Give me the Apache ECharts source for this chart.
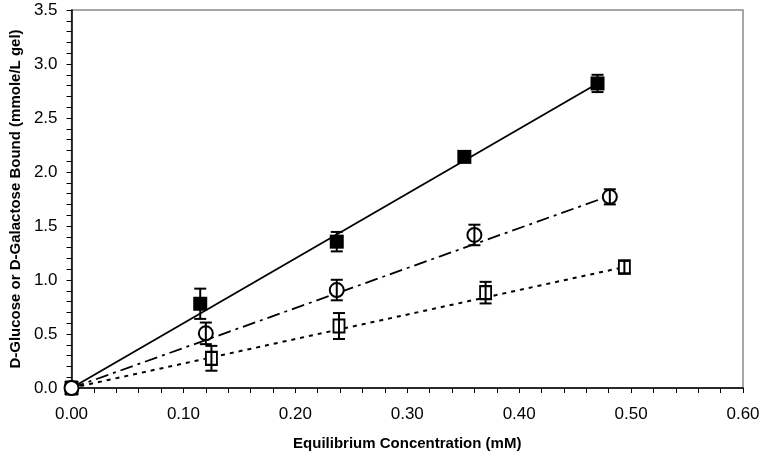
<!DOCTYPE html>
<html>
<head>
<meta charset="utf-8">
<script src="https://cdn.jsdelivr.net/npm/echarts@6/dist/echarts.min.js"></script>
<style>
html,body{margin:0;padding:0;background:#fff;}
#chart{width:764px;height:456px;}
</style>
</head>
<body>
<div id="chart"></div>
<script>
// Filled squares
var xFilled = [0, 0.115, 0.237, 0.351, 0.470];
var yFilled = [0, 0.78, 1.355, 2.14, 2.82];
var errFilled = [0, 0.14, 0.09, 0.03, 0.08];
// Open circles
var xCircle = [0, 0.120, 0.237, 0.360, 0.481];
var yCircle = [0, 0.506, 0.907, 1.417, 1.77];
var errCircle = [0, 0.10, 0.095, 0.095, 0.07];
// Open squares
var xSquare = [0, 0.125, 0.239, 0.370, 0.494];
var ySquare = [0, 0.275, 0.574, 0.883, 1.12];
var errSquare = [0, 0.115, 0.12, 0.10, 0.06];
// Fitted lines (start and end points)
var fitFilledX = [0, 0.470];
var fitFilledY = [0, 2.82];
var fitCircleX = [0, 0.481];
var fitCircleY = [0, 1.78];
var fitSquareX = [0, 0.494];
var fitSquareY = [0, 1.12];

function zip(xs, ys) { return xs.map(function (x, i) { return [x, ys[i]]; }); }
function zip3(xs, ys, es) { return xs.map(function (x, i) { return [x, ys[i], es[i]]; }); }

function errRender(params, api) {
  var x = api.value(0), y = api.value(1), e = api.value(2);
  if (!e) return null;
  var top = api.coord([x, y + e]);
  var bot = api.coord([x, y - e]);
  var c = 6;
  var st = { stroke: '#000', lineWidth: 2 };
  return {
    type: 'group',
    children: [
      { type: 'line', shape: { x1: top[0], y1: top[1], x2: bot[0], y2: bot[1] }, style: st },
      { type: 'line', shape: { x1: top[0] - c, y1: top[1], x2: top[0] + c, y2: top[1] }, style: st },
      { type: 'line', shape: { x1: bot[0] - c, y1: bot[1], x2: bot[0] + c, y2: bot[1] }, style: st }
    ]
  };
}

var chart = echarts.init(document.getElementById('chart'));
var option = {
  animation: false,
  backgroundColor: '#fff',
  grid: { left: 65, right: 21, top: 10, bottom: 68, show: true, borderColor: '#8a8a8a', borderWidth: 1.5 },
  xAxis: {
    type: 'value', min: 0, max: 0.6, interval: 0.1,
    name: 'Equilibrium Concentration (mM)', nameLocation: 'middle', nameGap: 48,
    nameTextStyle: { fontFamily: 'Liberation Sans', fontWeight: 'bold', fontSize: 15, color: '#000' },
    axisLine: { show: true, onZero: false, lineStyle: { color: '#000', width: 1.5 } },
    axisTick: { show: true, inside: false, length: 5, lineStyle: { color: '#000' } },
    minorTick: { show: true, splitNumber: 5, length: 5, lineStyle: { color: '#000' } },
    axisLabel: { formatter: function (v) { return v.toFixed(2); }, fontFamily: 'Liberation Sans', fontSize: 17, color: '#000', margin: 18 },
    splitLine: { show: false }
  },
  yAxis: {
    type: 'value', min: 0, max: 3.5, interval: 0.5,
    name: 'D-Glucose or D-Galactose Bound (mmole/L gel)', nameLocation: 'middle', nameGap: 48,
    nameTextStyle: { fontFamily: 'Liberation Sans', fontWeight: 'bold', fontSize: 15, color: '#000' },
    axisLine: { show: true, onZero: false, lineStyle: { color: '#000', width: 1.5 } },
    axisTick: { show: true, inside: false, length: 5, lineStyle: { color: '#000' } },
    minorTick: { show: true, splitNumber: 5, length: 5, lineStyle: { color: '#000' } },
    axisLabel: { formatter: function (v) { return v.toFixed(1); }, fontFamily: 'Liberation Sans', fontSize: 17, color: '#000', margin: 14 },
    splitLine: { show: false }
  },
  series: [
    { type: 'line', data: zip(fitFilledX, fitFilledY), symbol: 'none', lineStyle: { color: '#000', width: 1.8, type: 'solid' }, z: 2 },
    { type: 'line', data: zip(fitCircleX, fitCircleY), symbol: 'none', lineStyle: { color: '#000', width: 1.8, type: [13, 5, 3, 5] }, z: 2 },
    { type: 'line', data: zip(fitSquareX, fitSquareY), symbol: 'none', lineStyle: { color: '#000', width: 2, type: [4, 5] }, z: 2 },
    { type: 'scatter', data: zip(xSquare, ySquare), symbol: 'rect', symbolSize: [11, 13], itemStyle: { color: '#fff', borderColor: '#000', borderWidth: 2, opacity: 1 }, z: 3 },
    { type: 'scatter', data: zip(xFilled, yFilled), symbol: 'rect', symbolSize: 14, itemStyle: { color: '#000', opacity: 1 }, z: 4 },
    { type: 'scatter', data: zip(xCircle, yCircle), symbol: 'circle', symbolSize: 14, itemStyle: { color: '#fff', borderColor: '#000', borderWidth: 2, opacity: 1 }, z: 5 },
    { type: 'custom', data: zip3(xFilled, yFilled, errFilled), renderItem: errRender, z: 6 },
    { type: 'custom', data: zip3(xCircle, yCircle, errCircle), renderItem: errRender, z: 6 },
    { type: 'custom', data: zip3(xSquare, ySquare, errSquare), renderItem: errRender, z: 6 }
  ]
};
chart.setOption(option);
</script>
</body>
</html>
